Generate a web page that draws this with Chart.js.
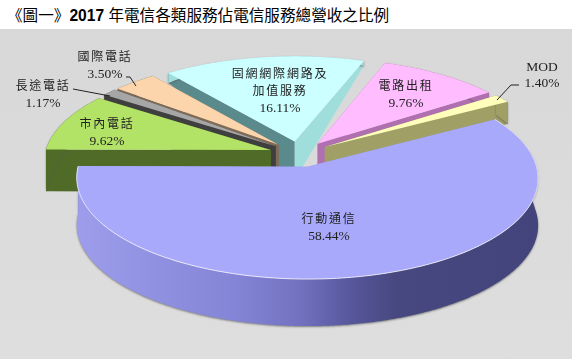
<!DOCTYPE html>
<html>
<head>
<meta charset="utf-8">
<style>
  body { margin: 0; background: #fff; }
  #wrap { position: relative; width: 572px; height: 359px; overflow: hidden;
    background: linear-gradient(#fff 29px, #d8d8d8 29px, #dedede 359px); }
  #title { position: absolute; left: 7px; top: 5px; font: 15.6px "Liberation Sans", "Noto Sans CJK TC", sans-serif;
    color: #000; white-space: nowrap; line-height: 22px; }
  #title b { font-weight: bold; }
  canvas { position: absolute; left: 0; top: 0; }
</style>
</head>
<body>
<div id="wrap">
  <div id="title">《圖一》<b>2017</b> 年電信各類服務佔電信服務總營收之比例</div>
  <canvas id="revenueShare" width="572" height="359"></canvas>
</div>
<script src="https://cdn.jsdelivr.net/npm/chart.js@4"></script>
<script>
const categories = [
  ['行動通信'],
  ['市內電話'],
  ['長途電話'],
  ['國際電話'],
  ['固網網際網路及', '加值服務'],
  ['電路出租'],
  ['MOD'],
];
const shares = [58.44, 9.62, 1.17, 3.50, 16.11, 9.76, 1.40];

const topColors = ['#a9a9fb', '#b2e266', '#a6a6a6', '#fcd5ac', '#ccffff', '#ffbcff', '#ffffbb'];
const startWallColors = ['#9d9dec', '#4f6b27', '#3f3f3f', '#7f6a55', '#5b8a8c', '#b070b0', '#9f9f66'];
const endWallColors = ['#9d9dec', '#4f6b27', '#3f3f3f', '#7f6a55', '#a0dedc', '#b070b0', '#9f9f66'];
const rimColors = [null, '#4f6b27', '#3f3f3f', '#7f6a55', '#a0dedc', '#b070b0', '#9f9f66'];

// back slices first, the big front one last
const paintOrder = [4, 5, 6, 3, 2, 1, 0];

// where each label block is centred: [x, first line y]
const labelSpots = [[329, 220], [107, 125], [43, 87], [105, 58], [280, 75], [406, 87], [542, 67]];
// leader lines for the small slices
const leaders = [
  [[73, 89], [110, 96]],
  [[126, 77], [130, 77], [136, 86]],
  [[519, 85], [511, 85], [497, 100]],
];

// fake camera
const centerX = 299.5, centerY = 154;
const spreadX = 226, spreadY = 97, perspective = 0.11;

function project(u, v) {
  const w = 1 - perspective * v;
  return { x: centerX + spreadX * u / w, y: centerY + spreadY * v / w };
}

// side walls get shorter towards the back of the pie
function wallDepth(y) {
  return Math.max(0, Math.min(47, 12 + 0.417 * (y - 78)));
}

function sliceOutline(el) {
  const mid = (el.startAngle + el.endAngle) / 2;
  const explode = el.options.offset / el.outerRadius;
  const cu = Math.cos(mid) * explode, cv = Math.sin(mid) * explode;
  const arc = [];
  const steps = Math.ceil((el.endAngle - el.startAngle) / 0.01);
  for (let i = 0; i <= steps; i++) {
    const a = el.startAngle + (el.endAngle - el.startAngle) * i / steps;
    arc.push(project(cu + Math.cos(a), cv + Math.sin(a)));
  }
  return { apex: project(cu, cv), arc: arc };
}

function fillPoly(ctx, pts, fill) {
  ctx.beginPath();
  pts.forEach((p, i) => i ? ctx.lineTo(p.x, p.y) : ctx.moveTo(p.x, p.y));
  ctx.closePath();
  ctx.fillStyle = fill;
  ctx.fill();
}

function dropped(p) {
  return { x: p.x, y: p.y + wallDepth(p.y) };
}

function drawSlice(ctx, el, i) {
  const { apex, arc } = sliceOutline(el);
  const first = arc[0], last = arc[arc.length - 1];

  fillPoly(ctx, [apex, first, dropped(first), dropped(apex)], startWallColors[i]);
  fillPoly(ctx, [apex, last, dropped(last), dropped(apex)], endWallColors[i]);

  ctx.save();
  ctx.shadowColor = 'rgba(90,90,90,0.7)';
  ctx.shadowBlur = 2;
  ctx.shadowOffsetY = 1;
  let rim = rimColors[i];
  if (!rim) {
    rim = ctx.createLinearGradient(77, 0, 539, 0);
    rim.addColorStop(0, '#9d9dec');
    rim.addColorStop(0.35, '#8484d6');
    rim.addColorStop(0.48, '#7272c0');
    rim.addColorStop(0.6, '#55559a');
    rim.addColorStop(0.69, '#484880');
    rim.addColorStop(1, '#44447c');
  }
  fillPoly(ctx, arc.concat(arc.map(dropped).reverse()), rim);
  ctx.restore();

  fillPoly(ctx, [apex].concat(arc), topColors[i]);

  if (i === 0) {
    ctx.beginPath();
    arc.forEach((p, k) => k ? ctx.lineTo(p.x, p.y) : ctx.moveTo(p.x, p.y));
    ctx.strokeStyle = 'rgba(255,255,255,0.75)';
    ctx.lineWidth = 1;
    ctx.stroke();
  }
}

function drawLabels(ctx) {
  ctx.textAlign = 'center';
  ctx.textBaseline = 'middle';
  ctx.fillStyle = '#222';
  categories.forEach((lines, i) => {
    let [x, y] = labelSpots[i];
    lines.forEach(line => {
      const latin = line === 'MOD';
      ctx.font = latin ? '13.5px "Liberation Serif"' : '12px "Liberation Serif", "Noto Sans CJK TC"';
      ctx.letterSpacing = latin ? '0px' : '1.8px';
      ctx.fillText(line, x, y);
      y += 17;
    });
    ctx.font = '13.5px "Liberation Serif"';
    ctx.letterSpacing = '0px';
    ctx.fillText(shares[i].toFixed(2) + '%', x, y - 1);
  });
  ctx.strokeStyle = '#222';
  ctx.lineWidth = 1;
  leaders.forEach(line => {
    ctx.beginPath();
    line.forEach((p, k) => k ? ctx.lineTo(p[0], p[1]) : ctx.moveTo(p[0], p[1]));
    ctx.stroke();
  });
}

const tiltedPie = {
  id: 'tiltedPie',
  beforeDatasetsDraw(chart) {
    const ctx = chart.ctx;
    const arcs = chart.getDatasetMeta(0).data;
    paintOrder.forEach(i => drawSlice(ctx, arcs[i], i));
    drawLabels(ctx);
    return false;
  }
};

function loadRevenueShareChart() {
  const data = {
    labels: categories,
    datasets: [{
      data: shares,
      backgroundColor: topColors,
      borderWidth: 0,
      offset: 22.5,
    }]
  };

  const config = {
    type: 'pie',
    data: data,
    options: {
      responsive: false,
      animation: false,
      events: [],
      rotation: 60,
      plugins: {
        legend: { display: false },
        tooltip: { enabled: false }
      }
    },
    plugins: [tiltedPie]
  };

  new Chart(document.getElementById('revenueShare'), config);
}

loadRevenueShareChart();
</script>
</body>
</html>
